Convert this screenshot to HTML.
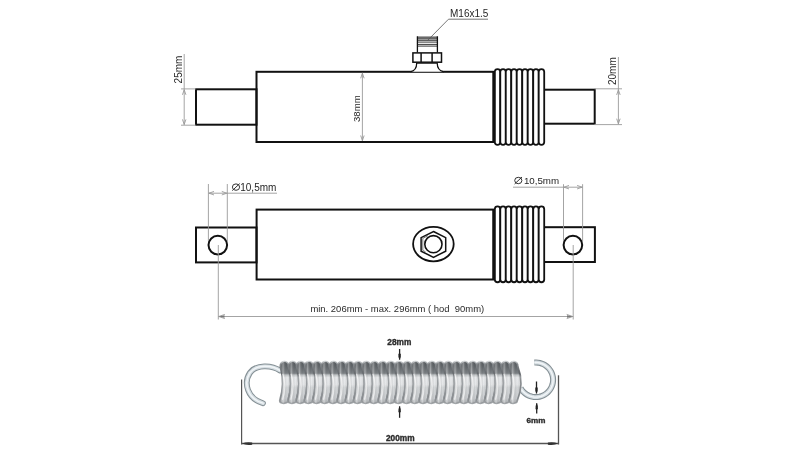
<!DOCTYPE html>
<html><head><meta charset="utf-8">
<style>
html,body{margin:0;padding:0;background:#fff;width:800px;height:450px;overflow:hidden}
svg{display:block;will-change:transform}
text{font-family:"Liberation Sans",sans-serif}
</style></head>
<body>
<svg width="800" height="450" viewBox="0 0 800 450">
<defs>
<linearGradient id="coil" gradientUnits="userSpaceOnUse" x1="0" y1="360.8" x2="0" y2="403.8">
<stop offset="0" stop-color="#575c60"/>
<stop offset="0.12" stop-color="#62676b"/>
<stop offset="0.29" stop-color="#7f8488"/>
<stop offset="0.33" stop-color="#c8ccce"/>
<stop offset="0.39" stop-color="#eef0f2"/>
<stop offset="0.55" stop-color="#eaecee"/>
<stop offset="0.62" stop-color="#d8dbdd"/>
<stop offset="0.88" stop-color="#cfd2d5"/>
<stop offset="1" stop-color="#b0b4b7"/>
</linearGradient>
<linearGradient id="coilstroke" gradientUnits="userSpaceOnUse" x1="0" y1="360.8" x2="0" y2="403.8">
<stop offset="0" stop-color="#e0e3e5"/>
<stop offset="0.08" stop-color="#878b8f"/>
<stop offset="0.3" stop-color="#65696d"/>
<stop offset="0.38" stop-color="#a2a6a9"/>
<stop offset="0.85" stop-color="#8a8e92"/>
<stop offset="1" stop-color="#a0a4a7"/>
</linearGradient>
<linearGradient id="coilh" x1="0" y1="0" x2="1" y2="0">
<stop offset="0" stop-color="#000" stop-opacity="0.06"/>
<stop offset="0.3" stop-color="#fff" stop-opacity="0.35"/>
<stop offset="0.65" stop-color="#000" stop-opacity="0.02"/>
<stop offset="1" stop-color="#000" stop-opacity="0.14"/>
</linearGradient>
</defs>
<rect width="800" height="450" fill="#fff"/>

<g fill="none" stroke="#111" stroke-width="2">
<rect x="196" y="89.3" width="60.5" height="35.4"/>
<rect x="256.5" y="71.8" width="237" height="70.2"/>
<rect x="544" y="89.7" width="50.7" height="34"/>
</g>
<path d="M494.80,142.20 L494.80,71.80 A2.75,2.80 0 0 1 500.29,71.80 L500.29,142.20 A2.75,2.80 0 0 1 494.80,142.20 Z" fill="#fff" stroke="#111" stroke-width="1.8"/>
<path d="M500.29,142.20 L500.29,71.80 A2.75,2.80 0 0 1 505.78,71.80 L505.78,142.20 A2.75,2.80 0 0 1 500.29,142.20 Z" fill="#fff" stroke="#111" stroke-width="1.8"/>
<path d="M505.78,142.20 L505.78,71.80 A2.75,2.80 0 0 1 511.27,71.80 L511.27,142.20 A2.75,2.80 0 0 1 505.78,142.20 Z" fill="#fff" stroke="#111" stroke-width="1.8"/>
<path d="M511.27,142.20 L511.27,71.80 A2.75,2.80 0 0 1 516.76,71.80 L516.76,142.20 A2.75,2.80 0 0 1 511.27,142.20 Z" fill="#fff" stroke="#111" stroke-width="1.8"/>
<path d="M516.76,142.20 L516.76,71.80 A2.75,2.80 0 0 1 522.25,71.80 L522.25,142.20 A2.75,2.80 0 0 1 516.76,142.20 Z" fill="#fff" stroke="#111" stroke-width="1.8"/>
<path d="M522.25,142.20 L522.25,71.80 A2.75,2.80 0 0 1 527.74,71.80 L527.74,142.20 A2.75,2.80 0 0 1 522.25,142.20 Z" fill="#fff" stroke="#111" stroke-width="1.8"/>
<path d="M527.74,142.20 L527.74,71.80 A2.75,2.80 0 0 1 533.23,71.80 L533.23,142.20 A2.75,2.80 0 0 1 527.74,142.20 Z" fill="#fff" stroke="#111" stroke-width="1.8"/>
<path d="M533.23,142.20 L533.23,71.80 A2.75,2.80 0 0 1 538.72,71.80 L538.72,142.20 A2.75,2.80 0 0 1 533.23,142.20 Z" fill="#fff" stroke="#111" stroke-width="1.8"/>
<path d="M538.72,142.20 L538.72,71.80 A2.75,2.80 0 0 1 544.21,71.80 L544.21,142.20 A2.75,2.80 0 0 1 538.72,142.20 Z" fill="#fff" stroke="#111" stroke-width="1.8"/>
<line x1="493.9" y1="71.8" x2="493.9" y2="141.8" stroke="#111" stroke-width="2.6"/>
<g fill="#fff" stroke="#111" stroke-width="1.5">
<path d="M410.5,71.8 Q416.7,70.5 416.7,63 L437.2,63 Q437.2,70.5 443.8,71.8" stroke-width="1.25"/>
<rect x="412.9" y="52.9" width="28.6" height="9.3"/>
<line x1="421.1" y1="52.9" x2="421.1" y2="62.2"/><line x1="432.1" y1="52.9" x2="432.1" y2="62.2"/>
</g>
<rect x="417.3" y="36.5" width="20.2" height="3" fill="#7a7a7a"/>
<line x1="417.3" y1="37.2" x2="437.5" y2="37.2" stroke="#555" stroke-width="0.6"/>
<line x1="417.3" y1="38.6" x2="437.5" y2="38.6" stroke="#555" stroke-width="0.6"/>
<line x1="417.3" y1="40.3" x2="437.5" y2="40.3" stroke="#222" stroke-width="0.9"/>
<line x1="417.3" y1="42.1" x2="437.5" y2="42.1" stroke="#222" stroke-width="0.9"/>
<line x1="417.3" y1="44.4" x2="437.5" y2="44.4" stroke="#222" stroke-width="0.9"/>
<line x1="417.3" y1="46.1" x2="437.5" y2="46.1" stroke="#222" stroke-width="0.9"/>
<line x1="417.4" y1="36.3" x2="417.4" y2="52.5" stroke="#111" stroke-width="1.3"/>
<line x1="437.4" y1="36.3" x2="437.4" y2="52.5" stroke="#111" stroke-width="1.3"/>
<line x1="427.5" y1="40.5" x2="448.5" y2="19.2" stroke="#555" stroke-width="0.8"/>
<line x1="448.5" y1="19.2" x2="488" y2="19.2" stroke="#666" stroke-width="0.9"/>
<text x="450" y="16.6" font-size="10" fill="#262626" text-anchor="start" font-weight="normal">M16x1.5</text>
<line x1="181" y1="88.9" x2="196" y2="88.9" stroke="#9a9a9a" stroke-width="0.9"/>
<line x1="181" y1="125.2" x2="196" y2="125.2" stroke="#9a9a9a" stroke-width="0.9"/>
<line x1="184.2" y1="54" x2="184.2" y2="124.9" stroke="#9a9a9a" stroke-width="0.9"/>
<path d="M185.95,94.80 L184.20,89.80 L182.45,94.80" fill="none" stroke="#9a9a9a" stroke-width="0.9"/>
<path d="M182.45,119.40 L184.20,124.40 L185.95,119.40" fill="none" stroke="#9a9a9a" stroke-width="0.9"/>
<text x="181.8" y="83.4" font-size="10" fill="#2a2a2a" text-anchor="start" font-weight="normal" transform="rotate(-90 181.8 83.4)">25mm</text>
<line x1="362.4" y1="72.8" x2="362.4" y2="141" stroke="#9a9a9a" stroke-width="0.9"/>
<path d="M364.15,78.30 L362.40,73.30 L360.65,78.30" fill="none" stroke="#9a9a9a" stroke-width="0.9"/>
<path d="M360.65,135.50 L362.40,140.50 L364.15,135.50" fill="none" stroke="#9a9a9a" stroke-width="0.9"/>
<text x="360.2" y="122.0" font-size="9.6" fill="#2a2a2a" text-anchor="start" font-weight="normal" transform="rotate(-90 360.2 122.0)">38mm</text>
<line x1="594.4" y1="88.8" x2="622" y2="88.8" stroke="#9a9a9a" stroke-width="0.9"/>
<line x1="594.4" y1="124.6" x2="622" y2="124.6" stroke="#9a9a9a" stroke-width="0.9"/>
<line x1="618.4" y1="57" x2="618.4" y2="124.2" stroke="#9a9a9a" stroke-width="0.9"/>
<path d="M620.15,94.90 L618.40,89.90 L616.65,94.90" fill="none" stroke="#9a9a9a" stroke-width="0.9"/>
<path d="M616.65,118.70 L618.40,123.70 L620.15,118.70" fill="none" stroke="#9a9a9a" stroke-width="0.9"/>
<text x="615.8" y="85" font-size="10" fill="#2a2a2a" text-anchor="start" font-weight="normal" transform="rotate(-90 615.8 85)">20mm</text>
<g fill="none" stroke="#111" stroke-width="2">
<rect x="196" y="227.5" width="60.5" height="34.9"/>
<rect x="256.6" y="209.6" width="236.8" height="69.9"/>
<rect x="544" y="227.2" width="50.9" height="34.8"/>
<circle cx="217.8" cy="245.1" r="9.3"/>
<circle cx="572.9" cy="245.1" r="9.3"/>
</g>
<path d="M494.80,279.60 L494.80,209.10 A2.75,2.80 0 0 1 500.29,209.10 L500.29,279.60 A2.75,2.80 0 0 1 494.80,279.60 Z" fill="#fff" stroke="#111" stroke-width="1.8"/>
<path d="M500.29,279.60 L500.29,209.10 A2.75,2.80 0 0 1 505.78,209.10 L505.78,279.60 A2.75,2.80 0 0 1 500.29,279.60 Z" fill="#fff" stroke="#111" stroke-width="1.8"/>
<path d="M505.78,279.60 L505.78,209.10 A2.75,2.80 0 0 1 511.27,209.10 L511.27,279.60 A2.75,2.80 0 0 1 505.78,279.60 Z" fill="#fff" stroke="#111" stroke-width="1.8"/>
<path d="M511.27,279.60 L511.27,209.10 A2.75,2.80 0 0 1 516.76,209.10 L516.76,279.60 A2.75,2.80 0 0 1 511.27,279.60 Z" fill="#fff" stroke="#111" stroke-width="1.8"/>
<path d="M516.76,279.60 L516.76,209.10 A2.75,2.80 0 0 1 522.25,209.10 L522.25,279.60 A2.75,2.80 0 0 1 516.76,279.60 Z" fill="#fff" stroke="#111" stroke-width="1.8"/>
<path d="M522.25,279.60 L522.25,209.10 A2.75,2.80 0 0 1 527.74,209.10 L527.74,279.60 A2.75,2.80 0 0 1 522.25,279.60 Z" fill="#fff" stroke="#111" stroke-width="1.8"/>
<path d="M527.74,279.60 L527.74,209.10 A2.75,2.80 0 0 1 533.23,209.10 L533.23,279.60 A2.75,2.80 0 0 1 527.74,279.60 Z" fill="#fff" stroke="#111" stroke-width="1.8"/>
<path d="M533.23,279.60 L533.23,209.10 A2.75,2.80 0 0 1 538.72,209.10 L538.72,279.60 A2.75,2.80 0 0 1 533.23,279.60 Z" fill="#fff" stroke="#111" stroke-width="1.8"/>
<path d="M538.72,279.60 L538.72,209.10 A2.75,2.80 0 0 1 544.21,209.10 L544.21,279.60 A2.75,2.80 0 0 1 538.72,279.60 Z" fill="#fff" stroke="#111" stroke-width="1.8"/>
<line x1="493.9" y1="209.6" x2="493.9" y2="279.5" stroke="#111" stroke-width="2.6"/>
<g fill="none" stroke="#111">
<ellipse cx="433.4" cy="244.1" rx="20.3" ry="17.2" stroke-width="1.8"/>
<path d="M433.5,231.5 L445.7,237.6 L445.7,251.2 L433.5,257.3 L421.1,251.2 L421.1,237.6 Z" stroke-width="1.5"/>
<path d="M428,235.6 L422.8,238.4 L422.8,250.4 L425.5,251.8" stroke-width="0.8" stroke="#555"/>
<circle cx="433.4" cy="244.2" r="8.6" stroke-width="1.6"/>
</g>
<line x1="208.4" y1="184" x2="208.4" y2="241" stroke="#9a9a9a" stroke-width="0.9"/>
<line x1="227.3" y1="184" x2="227.3" y2="241" stroke="#9a9a9a" stroke-width="0.9"/>
<line x1="208.4" y1="193.2" x2="277" y2="193.2" stroke="#9a9a9a" stroke-width="0.9"/>
<path d="M214.00,191.45 L209.00,193.20 L214.00,194.95" fill="none" stroke="#9a9a9a" stroke-width="0.9"/>
<path d="M221.80,194.95 L226.80,193.20 L221.80,191.45" fill="none" stroke="#9a9a9a" stroke-width="0.9"/>
<ellipse cx="236" cy="187.1" rx="3.6" ry="3.2" fill="none" stroke="#333" stroke-width="1"/>
<line x1="232.30" y1="190.60" x2="239.70" y2="183.60" stroke="#333" stroke-width="1"/>
<text x="240.25" y="190.6" font-size="10" fill="#262626" text-anchor="start" font-weight="normal">10,5mm</text>
<line x1="563.5" y1="184.2" x2="563.5" y2="241" stroke="#9a9a9a" stroke-width="0.9"/>
<line x1="582.6" y1="184.2" x2="582.6" y2="241" stroke="#9a9a9a" stroke-width="0.9"/>
<line x1="513" y1="187.2" x2="582.6" y2="187.2" stroke="#9a9a9a" stroke-width="0.9"/>
<path d="M569.00,185.45 L564.00,187.20 L569.00,188.95" fill="none" stroke="#9a9a9a" stroke-width="0.9"/>
<path d="M577.10,188.95 L582.10,187.20 L577.10,185.45" fill="none" stroke="#9a9a9a" stroke-width="0.9"/>
<ellipse cx="518.3" cy="180.5" rx="3.6" ry="3.2" fill="none" stroke="#333" stroke-width="1"/>
<line x1="514.60" y1="184.00" x2="522.00" y2="177.00" stroke="#333" stroke-width="1"/>
<text x="523.9" y="184" font-size="9.75" fill="#262626" text-anchor="start" font-weight="normal">10,5mm</text>
<line x1="218.3" y1="245" x2="218.3" y2="319.5" stroke="#9a9a9a" stroke-width="0.9"/>
<line x1="573.2" y1="245" x2="573.2" y2="319.5" stroke="#9a9a9a" stroke-width="0.9"/>
<line x1="218.3" y1="316.5" x2="573.2" y2="316.5" stroke="#9a9a9a" stroke-width="0.9"/>
<path d="M224.80,314.40 L218.80,316.50 L224.80,318.60" fill="none" stroke="#9a9a9a" stroke-width="0.9"/>
<path d="M566.70,318.60 L572.70,316.50 L566.70,314.40" fill="none" stroke="#9a9a9a" stroke-width="0.9"/>
<path d="M219,316.5 L224.5,315.3 L224.5,317.7 Z" fill="#777"/>
<path d="M572.5,316.5 L567,315.3 L567,317.7 Z" fill="#777"/>
<text x="310.4" y="311.75" font-size="9.8" fill="#2a2a2a" textLength="173.8" lengthAdjust="spacingAndGlyphs" xml:space="preserve">min. 206mm - max. 296mm ( hod  90mm)</text>
<path d="M280,370.5 C272,365 256,364 249.8,373 C243.5,382.5 247,398.5 263,403.2" fill="none" stroke="#859095" stroke-width="5.8" stroke-linecap="round"/>
<path d="M280,370.5 C272,365 256,364 249.8,373 C243.5,382.5 247,398.5 263,403.2" fill="none" stroke="#d5dde2" stroke-width="3.8" stroke-linecap="round"/>
<path d="M280,370.5 C272,365 256,364 249.8,373 C243.5,382.5 247,398.5 263,403.2" fill="none" stroke="#f2f6f8" stroke-width="1.4" stroke-linecap="round"/>
<path d="M520.53,387.92 L521.49,389.52 L522.62,391.00 L523.90,392.35 L525.32,393.56 L526.86,394.61 L528.50,395.49 L530.23,396.18 L532.03,396.68 L533.86,396.99 L535.72,397.10 L537.59,397.01 L539.43,396.72 L541.22,396.23 L542.96,395.55 L544.61,394.69 L546.16,393.65 L547.59,392.46 L548.89,391.12 L550.03,389.64 L551.00,388.05 L551.80,386.37 L552.42,384.61 L552.84,382.80 L553.06,380.95 L553.09,379.08 L552.91,377.23 L552.53,375.40 L551.96,373.63 L551.20,371.93 L550.27,370.31 L549.16,368.81 L547.90,367.44 L546.50,366.21 L544.98,365.14 L543.35,364.23 L541.63,363.51 L539.85,362.98 L538.01,362.64 L536.15,362.50 L534.29,362.57" fill="none" stroke="#859095" stroke-width="6.0" stroke-linecap="butt"/>
<path d="M520.53,387.92 L521.49,389.52 L522.62,391.00 L523.90,392.35 L525.32,393.56 L526.86,394.61 L528.50,395.49 L530.23,396.18 L532.03,396.68 L533.86,396.99 L535.72,397.10 L537.59,397.01 L539.43,396.72 L541.22,396.23 L542.96,395.55 L544.61,394.69 L546.16,393.65 L547.59,392.46 L548.89,391.12 L550.03,389.64 L551.00,388.05 L551.80,386.37 L552.42,384.61 L552.84,382.80 L553.06,380.95 L553.09,379.08 L552.91,377.23 L552.53,375.40 L551.96,373.63 L551.20,371.93 L550.27,370.31 L549.16,368.81 L547.90,367.44 L546.50,366.21 L544.98,365.14 L543.35,364.23 L541.63,363.51 L539.85,362.98 L538.01,362.64 L536.15,362.50 L534.29,362.57" fill="none" stroke="#d5dde2" stroke-width="3.8" stroke-linecap="butt"/>
<path d="M520.53,387.92 L521.49,389.52 L522.62,391.00 L523.90,392.35 L525.32,393.56 L526.86,394.61 L528.50,395.49 L530.23,396.18 L532.03,396.68 L533.86,396.99 L535.72,397.10 L537.59,397.01 L539.43,396.72 L541.22,396.23 L542.96,395.55 L544.61,394.69 L546.16,393.65 L547.59,392.46 L548.89,391.12 L550.03,389.64 L551.00,388.05 L551.80,386.37 L552.42,384.61 L552.84,382.80 L553.06,380.95 L553.09,379.08 L552.91,377.23 L552.53,375.40 L551.96,373.63 L551.20,371.93 L550.27,370.31 L549.16,368.81 L547.90,367.44 L546.50,366.21 L544.98,365.14 L543.35,364.23 L541.63,363.51 L539.85,362.98 L538.01,362.64 L536.15,362.50 L534.29,362.57" fill="none" stroke="#f2f6f8" stroke-width="1.4" stroke-linecap="butt"/>
<g>
<path d="M280.30,366.40 C280.10,359.50 288.69,359.50 288.49,366.40 C291.69,378.40 291.69,388.80 287.89,400.80 C287.89,404.10 279.70,404.10 279.70,400.80 C283.50,388.80 283.50,378.40 280.30,366.40 Z" fill="url(#coil)" stroke="url(#coilstroke)" stroke-width="1.7"/>
<path d="M280.30,366.40 C280.10,359.50 288.69,359.50 288.49,366.40 C291.69,378.40 291.69,388.80 287.89,400.80 C287.89,404.10 279.70,404.10 279.70,400.80 C283.50,388.80 283.50,378.40 280.30,366.40 Z" fill="url(#coilh)"/>
<path d="M282.70,373.80 C285.58,380.80 285.58,391.80 282.50,399.80" fill="none" stroke="#fff" stroke-opacity="0.55" stroke-width="1.2"/>
<path d="M288.49,366.40 C288.29,359.50 296.88,359.50 296.68,366.40 C299.88,378.40 299.88,388.80 296.08,400.80 C296.08,404.10 287.89,404.10 287.89,400.80 C291.69,388.80 291.69,378.40 288.49,366.40 Z" fill="url(#coil)" stroke="url(#coilstroke)" stroke-width="1.7"/>
<path d="M288.49,366.40 C288.29,359.50 296.88,359.50 296.68,366.40 C299.88,378.40 299.88,388.80 296.08,400.80 C296.08,404.10 287.89,404.10 287.89,400.80 C291.69,388.80 291.69,378.40 288.49,366.40 Z" fill="url(#coilh)"/>
<path d="M290.89,373.80 C293.77,380.80 293.77,391.80 290.69,399.80" fill="none" stroke="#fff" stroke-opacity="0.55" stroke-width="1.2"/>
<path d="M296.68,366.40 C296.48,359.50 305.07,359.50 304.87,366.40 C308.07,378.40 308.07,388.80 304.27,400.80 C304.27,404.10 296.08,404.10 296.08,400.80 C299.88,388.80 299.88,378.40 296.68,366.40 Z" fill="url(#coil)" stroke="url(#coilstroke)" stroke-width="1.7"/>
<path d="M296.68,366.40 C296.48,359.50 305.07,359.50 304.87,366.40 C308.07,378.40 308.07,388.80 304.27,400.80 C304.27,404.10 296.08,404.10 296.08,400.80 C299.88,388.80 299.88,378.40 296.68,366.40 Z" fill="url(#coilh)"/>
<path d="M299.08,373.80 C301.96,380.80 301.96,391.80 298.88,399.80" fill="none" stroke="#fff" stroke-opacity="0.55" stroke-width="1.2"/>
<path d="M304.87,366.40 C304.67,359.50 313.26,359.50 313.06,366.40 C316.26,378.40 316.26,388.80 312.46,400.80 C312.46,404.10 304.27,404.10 304.27,400.80 C308.07,388.80 308.07,378.40 304.87,366.40 Z" fill="url(#coil)" stroke="url(#coilstroke)" stroke-width="1.7"/>
<path d="M304.87,366.40 C304.67,359.50 313.26,359.50 313.06,366.40 C316.26,378.40 316.26,388.80 312.46,400.80 C312.46,404.10 304.27,404.10 304.27,400.80 C308.07,388.80 308.07,378.40 304.87,366.40 Z" fill="url(#coilh)"/>
<path d="M307.27,373.80 C310.15,380.80 310.15,391.80 307.07,399.80" fill="none" stroke="#fff" stroke-opacity="0.55" stroke-width="1.2"/>
<path d="M313.06,366.40 C312.86,359.50 321.45,359.50 321.25,366.40 C324.45,378.40 324.45,388.80 320.65,400.80 C320.65,404.10 312.46,404.10 312.46,400.80 C316.26,388.80 316.26,378.40 313.06,366.40 Z" fill="url(#coil)" stroke="url(#coilstroke)" stroke-width="1.7"/>
<path d="M313.06,366.40 C312.86,359.50 321.45,359.50 321.25,366.40 C324.45,378.40 324.45,388.80 320.65,400.80 C320.65,404.10 312.46,404.10 312.46,400.80 C316.26,388.80 316.26,378.40 313.06,366.40 Z" fill="url(#coilh)"/>
<path d="M315.46,373.80 C318.34,380.80 318.34,391.80 315.26,399.80" fill="none" stroke="#fff" stroke-opacity="0.55" stroke-width="1.2"/>
<path d="M321.25,366.40 C321.05,359.50 329.64,359.50 329.44,366.40 C332.64,378.40 332.64,388.80 328.84,400.80 C328.84,404.10 320.65,404.10 320.65,400.80 C324.45,388.80 324.45,378.40 321.25,366.40 Z" fill="url(#coil)" stroke="url(#coilstroke)" stroke-width="1.7"/>
<path d="M321.25,366.40 C321.05,359.50 329.64,359.50 329.44,366.40 C332.64,378.40 332.64,388.80 328.84,400.80 C328.84,404.10 320.65,404.10 320.65,400.80 C324.45,388.80 324.45,378.40 321.25,366.40 Z" fill="url(#coilh)"/>
<path d="M323.65,373.80 C326.53,380.80 326.53,391.80 323.45,399.80" fill="none" stroke="#fff" stroke-opacity="0.55" stroke-width="1.2"/>
<path d="M329.44,366.40 C329.24,359.50 337.83,359.50 337.63,366.40 C340.83,378.40 340.83,388.80 337.03,400.80 C337.03,404.10 328.84,404.10 328.84,400.80 C332.64,388.80 332.64,378.40 329.44,366.40 Z" fill="url(#coil)" stroke="url(#coilstroke)" stroke-width="1.7"/>
<path d="M329.44,366.40 C329.24,359.50 337.83,359.50 337.63,366.40 C340.83,378.40 340.83,388.80 337.03,400.80 C337.03,404.10 328.84,404.10 328.84,400.80 C332.64,388.80 332.64,378.40 329.44,366.40 Z" fill="url(#coilh)"/>
<path d="M331.84,373.80 C334.72,380.80 334.72,391.80 331.64,399.80" fill="none" stroke="#fff" stroke-opacity="0.55" stroke-width="1.2"/>
<path d="M337.63,366.40 C337.43,359.50 346.02,359.50 345.82,366.40 C349.02,378.40 349.02,388.80 345.22,400.80 C345.22,404.10 337.03,404.10 337.03,400.80 C340.83,388.80 340.83,378.40 337.63,366.40 Z" fill="url(#coil)" stroke="url(#coilstroke)" stroke-width="1.7"/>
<path d="M337.63,366.40 C337.43,359.50 346.02,359.50 345.82,366.40 C349.02,378.40 349.02,388.80 345.22,400.80 C345.22,404.10 337.03,404.10 337.03,400.80 C340.83,388.80 340.83,378.40 337.63,366.40 Z" fill="url(#coilh)"/>
<path d="M340.03,373.80 C342.91,380.80 342.91,391.80 339.83,399.80" fill="none" stroke="#fff" stroke-opacity="0.55" stroke-width="1.2"/>
<path d="M345.82,366.40 C345.62,359.50 354.21,359.50 354.01,366.40 C357.21,378.40 357.21,388.80 353.41,400.80 C353.41,404.10 345.22,404.10 345.22,400.80 C349.02,388.80 349.02,378.40 345.82,366.40 Z" fill="url(#coil)" stroke="url(#coilstroke)" stroke-width="1.7"/>
<path d="M345.82,366.40 C345.62,359.50 354.21,359.50 354.01,366.40 C357.21,378.40 357.21,388.80 353.41,400.80 C353.41,404.10 345.22,404.10 345.22,400.80 C349.02,388.80 349.02,378.40 345.82,366.40 Z" fill="url(#coilh)"/>
<path d="M348.22,373.80 C351.10,380.80 351.10,391.80 348.02,399.80" fill="none" stroke="#fff" stroke-opacity="0.55" stroke-width="1.2"/>
<path d="M354.01,366.40 C353.81,359.50 362.40,359.50 362.20,366.40 C365.40,378.40 365.40,388.80 361.60,400.80 C361.60,404.10 353.41,404.10 353.41,400.80 C357.21,388.80 357.21,378.40 354.01,366.40 Z" fill="url(#coil)" stroke="url(#coilstroke)" stroke-width="1.7"/>
<path d="M354.01,366.40 C353.81,359.50 362.40,359.50 362.20,366.40 C365.40,378.40 365.40,388.80 361.60,400.80 C361.60,404.10 353.41,404.10 353.41,400.80 C357.21,388.80 357.21,378.40 354.01,366.40 Z" fill="url(#coilh)"/>
<path d="M356.41,373.80 C359.29,380.80 359.29,391.80 356.21,399.80" fill="none" stroke="#fff" stroke-opacity="0.55" stroke-width="1.2"/>
<path d="M362.20,366.40 C362.00,359.50 370.59,359.50 370.39,366.40 C373.59,378.40 373.59,388.80 369.79,400.80 C369.79,404.10 361.60,404.10 361.60,400.80 C365.40,388.80 365.40,378.40 362.20,366.40 Z" fill="url(#coil)" stroke="url(#coilstroke)" stroke-width="1.7"/>
<path d="M362.20,366.40 C362.00,359.50 370.59,359.50 370.39,366.40 C373.59,378.40 373.59,388.80 369.79,400.80 C369.79,404.10 361.60,404.10 361.60,400.80 C365.40,388.80 365.40,378.40 362.20,366.40 Z" fill="url(#coilh)"/>
<path d="M364.60,373.80 C367.48,380.80 367.48,391.80 364.40,399.80" fill="none" stroke="#fff" stroke-opacity="0.55" stroke-width="1.2"/>
<path d="M370.39,366.40 C370.19,359.50 378.78,359.50 378.58,366.40 C381.78,378.40 381.78,388.80 377.98,400.80 C377.98,404.10 369.79,404.10 369.79,400.80 C373.59,388.80 373.59,378.40 370.39,366.40 Z" fill="url(#coil)" stroke="url(#coilstroke)" stroke-width="1.7"/>
<path d="M370.39,366.40 C370.19,359.50 378.78,359.50 378.58,366.40 C381.78,378.40 381.78,388.80 377.98,400.80 C377.98,404.10 369.79,404.10 369.79,400.80 C373.59,388.80 373.59,378.40 370.39,366.40 Z" fill="url(#coilh)"/>
<path d="M372.79,373.80 C375.67,380.80 375.67,391.80 372.59,399.80" fill="none" stroke="#fff" stroke-opacity="0.55" stroke-width="1.2"/>
<path d="M378.58,366.40 C378.38,359.50 386.97,359.50 386.77,366.40 C389.97,378.40 389.97,388.80 386.17,400.80 C386.17,404.10 377.98,404.10 377.98,400.80 C381.78,388.80 381.78,378.40 378.58,366.40 Z" fill="url(#coil)" stroke="url(#coilstroke)" stroke-width="1.7"/>
<path d="M378.58,366.40 C378.38,359.50 386.97,359.50 386.77,366.40 C389.97,378.40 389.97,388.80 386.17,400.80 C386.17,404.10 377.98,404.10 377.98,400.80 C381.78,388.80 381.78,378.40 378.58,366.40 Z" fill="url(#coilh)"/>
<path d="M380.98,373.80 C383.86,380.80 383.86,391.80 380.78,399.80" fill="none" stroke="#fff" stroke-opacity="0.55" stroke-width="1.2"/>
<path d="M386.77,366.40 C386.57,359.50 395.16,359.50 394.96,366.40 C398.16,378.40 398.16,388.80 394.36,400.80 C394.36,404.10 386.17,404.10 386.17,400.80 C389.97,388.80 389.97,378.40 386.77,366.40 Z" fill="url(#coil)" stroke="url(#coilstroke)" stroke-width="1.7"/>
<path d="M386.77,366.40 C386.57,359.50 395.16,359.50 394.96,366.40 C398.16,378.40 398.16,388.80 394.36,400.80 C394.36,404.10 386.17,404.10 386.17,400.80 C389.97,388.80 389.97,378.40 386.77,366.40 Z" fill="url(#coilh)"/>
<path d="M389.17,373.80 C392.05,380.80 392.05,391.80 388.97,399.80" fill="none" stroke="#fff" stroke-opacity="0.55" stroke-width="1.2"/>
<path d="M394.96,366.40 C394.76,359.50 403.35,359.50 403.15,366.40 C406.35,378.40 406.35,388.80 402.55,400.80 C402.55,404.10 394.36,404.10 394.36,400.80 C398.16,388.80 398.16,378.40 394.96,366.40 Z" fill="url(#coil)" stroke="url(#coilstroke)" stroke-width="1.7"/>
<path d="M394.96,366.40 C394.76,359.50 403.35,359.50 403.15,366.40 C406.35,378.40 406.35,388.80 402.55,400.80 C402.55,404.10 394.36,404.10 394.36,400.80 C398.16,388.80 398.16,378.40 394.96,366.40 Z" fill="url(#coilh)"/>
<path d="M397.36,373.80 C400.24,380.80 400.24,391.80 397.16,399.80" fill="none" stroke="#fff" stroke-opacity="0.55" stroke-width="1.2"/>
<path d="M403.15,366.40 C402.95,359.50 411.54,359.50 411.34,366.40 C414.54,378.40 414.54,388.80 410.74,400.80 C410.74,404.10 402.55,404.10 402.55,400.80 C406.35,388.80 406.35,378.40 403.15,366.40 Z" fill="url(#coil)" stroke="url(#coilstroke)" stroke-width="1.7"/>
<path d="M403.15,366.40 C402.95,359.50 411.54,359.50 411.34,366.40 C414.54,378.40 414.54,388.80 410.74,400.80 C410.74,404.10 402.55,404.10 402.55,400.80 C406.35,388.80 406.35,378.40 403.15,366.40 Z" fill="url(#coilh)"/>
<path d="M405.55,373.80 C408.43,380.80 408.43,391.80 405.35,399.80" fill="none" stroke="#fff" stroke-opacity="0.55" stroke-width="1.2"/>
<path d="M411.34,366.40 C411.14,359.50 419.73,359.50 419.53,366.40 C422.73,378.40 422.73,388.80 418.93,400.80 C418.93,404.10 410.74,404.10 410.74,400.80 C414.54,388.80 414.54,378.40 411.34,366.40 Z" fill="url(#coil)" stroke="url(#coilstroke)" stroke-width="1.7"/>
<path d="M411.34,366.40 C411.14,359.50 419.73,359.50 419.53,366.40 C422.73,378.40 422.73,388.80 418.93,400.80 C418.93,404.10 410.74,404.10 410.74,400.80 C414.54,388.80 414.54,378.40 411.34,366.40 Z" fill="url(#coilh)"/>
<path d="M413.74,373.80 C416.62,380.80 416.62,391.80 413.54,399.80" fill="none" stroke="#fff" stroke-opacity="0.55" stroke-width="1.2"/>
<path d="M419.53,366.40 C419.33,359.50 427.92,359.50 427.72,366.40 C430.92,378.40 430.92,388.80 427.12,400.80 C427.12,404.10 418.93,404.10 418.93,400.80 C422.73,388.80 422.73,378.40 419.53,366.40 Z" fill="url(#coil)" stroke="url(#coilstroke)" stroke-width="1.7"/>
<path d="M419.53,366.40 C419.33,359.50 427.92,359.50 427.72,366.40 C430.92,378.40 430.92,388.80 427.12,400.80 C427.12,404.10 418.93,404.10 418.93,400.80 C422.73,388.80 422.73,378.40 419.53,366.40 Z" fill="url(#coilh)"/>
<path d="M421.93,373.80 C424.81,380.80 424.81,391.80 421.73,399.80" fill="none" stroke="#fff" stroke-opacity="0.55" stroke-width="1.2"/>
<path d="M427.72,366.40 C427.52,359.50 436.11,359.50 435.91,366.40 C439.11,378.40 439.11,388.80 435.31,400.80 C435.31,404.10 427.12,404.10 427.12,400.80 C430.92,388.80 430.92,378.40 427.72,366.40 Z" fill="url(#coil)" stroke="url(#coilstroke)" stroke-width="1.7"/>
<path d="M427.72,366.40 C427.52,359.50 436.11,359.50 435.91,366.40 C439.11,378.40 439.11,388.80 435.31,400.80 C435.31,404.10 427.12,404.10 427.12,400.80 C430.92,388.80 430.92,378.40 427.72,366.40 Z" fill="url(#coilh)"/>
<path d="M430.12,373.80 C433.00,380.80 433.00,391.80 429.92,399.80" fill="none" stroke="#fff" stroke-opacity="0.55" stroke-width="1.2"/>
<path d="M435.91,366.40 C435.71,359.50 444.30,359.50 444.10,366.40 C447.30,378.40 447.30,388.80 443.50,400.80 C443.50,404.10 435.31,404.10 435.31,400.80 C439.11,388.80 439.11,378.40 435.91,366.40 Z" fill="url(#coil)" stroke="url(#coilstroke)" stroke-width="1.7"/>
<path d="M435.91,366.40 C435.71,359.50 444.30,359.50 444.10,366.40 C447.30,378.40 447.30,388.80 443.50,400.80 C443.50,404.10 435.31,404.10 435.31,400.80 C439.11,388.80 439.11,378.40 435.91,366.40 Z" fill="url(#coilh)"/>
<path d="M438.31,373.80 C441.19,380.80 441.19,391.80 438.11,399.80" fill="none" stroke="#fff" stroke-opacity="0.55" stroke-width="1.2"/>
<path d="M444.10,366.40 C443.90,359.50 452.49,359.50 452.29,366.40 C455.49,378.40 455.49,388.80 451.69,400.80 C451.69,404.10 443.50,404.10 443.50,400.80 C447.30,388.80 447.30,378.40 444.10,366.40 Z" fill="url(#coil)" stroke="url(#coilstroke)" stroke-width="1.7"/>
<path d="M444.10,366.40 C443.90,359.50 452.49,359.50 452.29,366.40 C455.49,378.40 455.49,388.80 451.69,400.80 C451.69,404.10 443.50,404.10 443.50,400.80 C447.30,388.80 447.30,378.40 444.10,366.40 Z" fill="url(#coilh)"/>
<path d="M446.50,373.80 C449.38,380.80 449.38,391.80 446.30,399.80" fill="none" stroke="#fff" stroke-opacity="0.55" stroke-width="1.2"/>
<path d="M452.29,366.40 C452.09,359.50 460.68,359.50 460.48,366.40 C463.68,378.40 463.68,388.80 459.88,400.80 C459.88,404.10 451.69,404.10 451.69,400.80 C455.49,388.80 455.49,378.40 452.29,366.40 Z" fill="url(#coil)" stroke="url(#coilstroke)" stroke-width="1.7"/>
<path d="M452.29,366.40 C452.09,359.50 460.68,359.50 460.48,366.40 C463.68,378.40 463.68,388.80 459.88,400.80 C459.88,404.10 451.69,404.10 451.69,400.80 C455.49,388.80 455.49,378.40 452.29,366.40 Z" fill="url(#coilh)"/>
<path d="M454.69,373.80 C457.57,380.80 457.57,391.80 454.49,399.80" fill="none" stroke="#fff" stroke-opacity="0.55" stroke-width="1.2"/>
<path d="M460.48,366.40 C460.28,359.50 468.87,359.50 468.67,366.40 C471.87,378.40 471.87,388.80 468.07,400.80 C468.07,404.10 459.88,404.10 459.88,400.80 C463.68,388.80 463.68,378.40 460.48,366.40 Z" fill="url(#coil)" stroke="url(#coilstroke)" stroke-width="1.7"/>
<path d="M460.48,366.40 C460.28,359.50 468.87,359.50 468.67,366.40 C471.87,378.40 471.87,388.80 468.07,400.80 C468.07,404.10 459.88,404.10 459.88,400.80 C463.68,388.80 463.68,378.40 460.48,366.40 Z" fill="url(#coilh)"/>
<path d="M462.88,373.80 C465.76,380.80 465.76,391.80 462.68,399.80" fill="none" stroke="#fff" stroke-opacity="0.55" stroke-width="1.2"/>
<path d="M468.67,366.40 C468.47,359.50 477.06,359.50 476.86,366.40 C480.06,378.40 480.06,388.80 476.26,400.80 C476.26,404.10 468.07,404.10 468.07,400.80 C471.87,388.80 471.87,378.40 468.67,366.40 Z" fill="url(#coil)" stroke="url(#coilstroke)" stroke-width="1.7"/>
<path d="M468.67,366.40 C468.47,359.50 477.06,359.50 476.86,366.40 C480.06,378.40 480.06,388.80 476.26,400.80 C476.26,404.10 468.07,404.10 468.07,400.80 C471.87,388.80 471.87,378.40 468.67,366.40 Z" fill="url(#coilh)"/>
<path d="M471.07,373.80 C473.95,380.80 473.95,391.80 470.87,399.80" fill="none" stroke="#fff" stroke-opacity="0.55" stroke-width="1.2"/>
<path d="M476.86,366.40 C476.66,359.50 485.25,359.50 485.05,366.40 C488.25,378.40 488.25,388.80 484.45,400.80 C484.45,404.10 476.26,404.10 476.26,400.80 C480.06,388.80 480.06,378.40 476.86,366.40 Z" fill="url(#coil)" stroke="url(#coilstroke)" stroke-width="1.7"/>
<path d="M476.86,366.40 C476.66,359.50 485.25,359.50 485.05,366.40 C488.25,378.40 488.25,388.80 484.45,400.80 C484.45,404.10 476.26,404.10 476.26,400.80 C480.06,388.80 480.06,378.40 476.86,366.40 Z" fill="url(#coilh)"/>
<path d="M479.26,373.80 C482.14,380.80 482.14,391.80 479.06,399.80" fill="none" stroke="#fff" stroke-opacity="0.55" stroke-width="1.2"/>
<path d="M485.05,366.40 C484.85,359.50 493.44,359.50 493.24,366.40 C496.44,378.40 496.44,388.80 492.64,400.80 C492.64,404.10 484.45,404.10 484.45,400.80 C488.25,388.80 488.25,378.40 485.05,366.40 Z" fill="url(#coil)" stroke="url(#coilstroke)" stroke-width="1.7"/>
<path d="M485.05,366.40 C484.85,359.50 493.44,359.50 493.24,366.40 C496.44,378.40 496.44,388.80 492.64,400.80 C492.64,404.10 484.45,404.10 484.45,400.80 C488.25,388.80 488.25,378.40 485.05,366.40 Z" fill="url(#coilh)"/>
<path d="M487.45,373.80 C490.33,380.80 490.33,391.80 487.25,399.80" fill="none" stroke="#fff" stroke-opacity="0.55" stroke-width="1.2"/>
<path d="M493.24,366.40 C493.04,359.50 501.63,359.50 501.43,366.40 C504.63,378.40 504.63,388.80 500.83,400.80 C500.83,404.10 492.64,404.10 492.64,400.80 C496.44,388.80 496.44,378.40 493.24,366.40 Z" fill="url(#coil)" stroke="url(#coilstroke)" stroke-width="1.7"/>
<path d="M493.24,366.40 C493.04,359.50 501.63,359.50 501.43,366.40 C504.63,378.40 504.63,388.80 500.83,400.80 C500.83,404.10 492.64,404.10 492.64,400.80 C496.44,388.80 496.44,378.40 493.24,366.40 Z" fill="url(#coilh)"/>
<path d="M495.64,373.80 C498.52,380.80 498.52,391.80 495.44,399.80" fill="none" stroke="#fff" stroke-opacity="0.55" stroke-width="1.2"/>
<path d="M501.43,366.40 C501.23,359.50 509.82,359.50 509.62,366.40 C512.82,378.40 512.82,388.80 509.02,400.80 C509.02,404.10 500.83,404.10 500.83,400.80 C504.63,388.80 504.63,378.40 501.43,366.40 Z" fill="url(#coil)" stroke="url(#coilstroke)" stroke-width="1.7"/>
<path d="M501.43,366.40 C501.23,359.50 509.82,359.50 509.62,366.40 C512.82,378.40 512.82,388.80 509.02,400.80 C509.02,404.10 500.83,404.10 500.83,400.80 C504.63,388.80 504.63,378.40 501.43,366.40 Z" fill="url(#coilh)"/>
<path d="M503.83,373.80 C506.71,380.80 506.71,391.80 503.63,399.80" fill="none" stroke="#fff" stroke-opacity="0.55" stroke-width="1.2"/>
<path d="M509.62,366.40 C509.42,359.50 518.01,359.50 517.81,366.40 C522.41,378.40 522.41,388.80 517.21,400.80 C517.21,404.10 509.02,404.10 509.02,400.80 C512.82,388.80 512.82,378.40 509.62,366.40 Z" fill="url(#coil)" stroke="url(#coilstroke)" stroke-width="1.7"/>
<path d="M509.62,366.40 C509.42,359.50 518.01,359.50 517.81,366.40 C522.41,378.40 522.41,388.80 517.21,400.80 C517.21,404.10 509.02,404.10 509.02,400.80 C512.82,388.80 512.82,378.40 509.62,366.40 Z" fill="url(#coilh)"/>
<path d="M512.02,373.80 C514.90,380.80 514.90,391.80 511.82,399.80" fill="none" stroke="#fff" stroke-opacity="0.55" stroke-width="1.2"/>
</g>
<line x1="241.6" y1="379.5" x2="241.6" y2="444.5" stroke="#555" stroke-width="1.2"/>
<line x1="558.5" y1="375.3" x2="558.5" y2="444.5" stroke="#555" stroke-width="1.3"/>
<line x1="241.6" y1="443.6" x2="558.5" y2="443.6" stroke="#555" stroke-width="1.5"/>
<path d="M242.2,443.6 Q246,441.6 252.2,442.5 L252.2,444.7 Q246,445.6 242.2,443.6 Z" fill="#333"/>
<path d="M557.9,443.6 Q554,441.6 547.9,442.5 L547.9,444.7 Q554,445.6 557.9,443.6 Z" fill="#333"/>
<text x="386.0" y="440.9" font-size="8.3" fill="#2e2e2e" text-anchor="start" font-weight="bold" stroke="#2a2a2a" stroke-width="0.35">200mm</text>
<text x="387.3" y="345.0" font-size="8.3" fill="#2e2e2e" text-anchor="start" font-weight="bold" stroke="#2a2a2a" stroke-width="0.35">28mm</text>
<line x1="399.6" y1="349" x2="399.6" y2="359.7" stroke="#222" stroke-width="1.3"/>
<path d="M399.6,359.7 Q397.90000000000003,356.7 398.40000000000003,353.7 L400.8,353.7 Q401.3,356.7 399.6,359.7 Z" fill="#222"/>
<line x1="399.6" y1="417.8" x2="399.6" y2="406.3" stroke="#222" stroke-width="1.3"/>
<path d="M399.6,406.3 Q397.90000000000003,409.3 398.40000000000003,412.3 L400.8,412.3 Q401.3,409.3 399.6,406.3 Z" fill="#222"/>
<line x1="536.5" y1="381.5" x2="536.5" y2="393.5" stroke="#222" stroke-width="1.3"/>
<path d="M536.5,393.5 Q534.8,390.5 535.3,387.5 L537.7,387.5 Q538.2,390.5 536.5,393.5 Z" fill="#222"/>
<line x1="536.7" y1="413.5" x2="536.7" y2="403.3" stroke="#222" stroke-width="1.3"/>
<path d="M536.7,403.3 Q535.0,406.3 535.5,409.3 L537.9000000000001,409.3 Q538.4000000000001,406.3 536.7,403.3 Z" fill="#222"/>
<text x="526.6" y="422.8" font-size="8.1" fill="#2e2e2e" text-anchor="start" font-weight="bold" stroke="#2a2a2a" stroke-width="0.35">6mm</text>
</svg>
</body></html>
